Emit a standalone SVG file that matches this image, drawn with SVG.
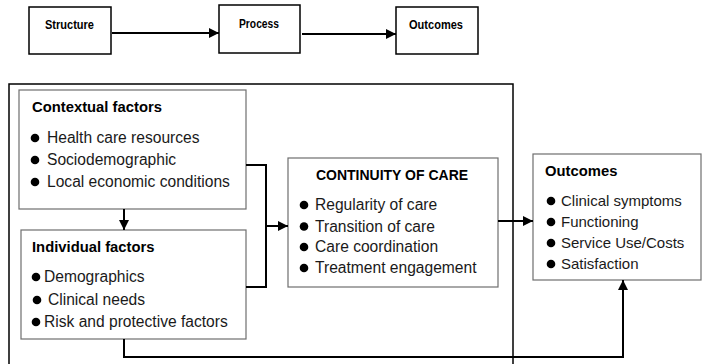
<svg xmlns="http://www.w3.org/2000/svg" width="702" height="364" viewBox="0 0 702 364">
<style>
.top{fill:#fff;stroke:#000;stroke-width:1.5}
.box{fill:#fff;stroke:#6e6e6e;stroke-width:1.2}
.outer{fill:none;stroke:#000;stroke-width:1.5}
.t{font-family:"Liberation Sans",Arial,sans-serif;font-size:15.6px;fill:#1a1a1a}
.b{font-family:"Liberation Sans",Arial,sans-serif;font-weight:bold;font-size:14.8px;fill:#000}
.tb{font-family:"Liberation Sans",Arial,sans-serif;font-weight:bold;font-size:13.5px;fill:#000}
.c{fill:none;stroke:#000;stroke-width:2}
</style>
<defs>
<marker id="ah" viewBox="0 0 10 10" refX="10" refY="5" markerWidth="5" markerHeight="5" orient="auto" markerUnits="strokeWidth">
<path d="M0,0 L10,5 L0,10 z" fill="#000"/>
</marker>
</defs>
<rect width="702" height="364" fill="#fff"/>
<rect class="outer" x="9" y="84" width="504" height="290"/>

<g id="structure">
<rect class="top" x="29" y="7" width="82" height="47"/>
<text class="tb" x="45" y="29" textLength="49" lengthAdjust="spacingAndGlyphs">Structure</text>
</g>
<g id="process">
<rect class="top" x="219" y="5" width="81" height="48"/>
<text class="tb" x="239" y="28" textLength="40" lengthAdjust="spacingAndGlyphs">Process</text>
</g>
<g id="outcomes-top">
<rect class="top" x="396" y="7" width="82" height="47"/>
<text class="tb" x="409" y="29" textLength="54" lengthAdjust="spacingAndGlyphs">Outcomes</text>
</g>

<g id="contextual">
<rect class="box" x="19" y="90" width="227" height="119"/>
<text class="b" x="32" y="112">Contextual factors</text>
<circle cx="35" cy="138" r="4.3"/><text class="t" x="47" y="143">Health care resources</text>
<circle cx="35" cy="160" r="4.3"/><text class="t" x="47" y="165">Sociodemographic</text>
<circle cx="35" cy="182" r="4.3"/><text class="t" x="47" y="187">Local economic conditions</text>
</g>

<g id="individual">
<rect class="box" x="21" y="230" width="225" height="109"/>
<text class="b" x="32" y="252">Individual factors</text>
<circle cx="36" cy="277" r="4.3"/><text class="t" x="44" y="282">Demographics</text>
<circle cx="37" cy="300" r="4.3"/><text class="t" x="48" y="305">Clinical needs</text>
<circle cx="36" cy="322" r="4.3"/><text class="t" x="44" y="327">Risk and protective factors</text>
</g>

<g id="continuity">
<rect class="box" x="288" y="158" width="210" height="129"/>
<text class="b" x="392" y="180" text-anchor="middle" style="font-size:14px">CONTINUITY OF CARE</text>
<circle cx="304" cy="205" r="4.3"/><text class="t" x="315" y="210">Regularity of care</text>
<circle cx="304" cy="226.5" r="4.3"/><text class="t" x="315" y="231.5">Transition of care</text>
<circle cx="304" cy="247" r="4.3"/><text class="t" x="315" y="252">Care coordination</text>
<circle cx="304" cy="268" r="4.3"/><text class="t" x="315" y="273">Treatment engagement</text>
</g>

<g id="outcomes">
<rect class="box" x="533" y="154" width="168" height="126"/>
<text class="b" x="545" y="176">Outcomes</text>
<circle cx="551" cy="201" r="4.3"/><text class="t" x="561" y="206" style="font-size:15px">Clinical symptoms</text>
<circle cx="551" cy="222" r="4.3"/><text class="t" x="561" y="227" style="font-size:15px">Functioning</text>
<circle cx="551" cy="243" r="4.3"/><text class="t" x="561" y="248" style="font-size:15px">Service Use/Costs</text>
<circle cx="551" cy="264" r="4.3"/><text class="t" x="561" y="269" style="font-size:15px">Satisfaction</text>
</g>

<g id="connectors">
<line class="c" x1="112" y1="33" x2="219" y2="33" marker-end="url(#ah)"/>
<line class="c" x1="302" y1="34" x2="396" y2="34" marker-end="url(#ah)"/>
<line class="c" x1="124" y1="209" x2="124" y2="230" marker-end="url(#ah)"/>
<polyline class="c" points="246,165 266,165 266,287 246,287"/>
<line class="c" x1="266" y1="226" x2="288" y2="226" marker-end="url(#ah)"/>
<line class="c" x1="498" y1="221" x2="533" y2="221" marker-end="url(#ah)"/>
<polyline class="c" points="124,339 124,357 623,357 623,280" marker-end="url(#ah)"/>
</g>
</svg>
